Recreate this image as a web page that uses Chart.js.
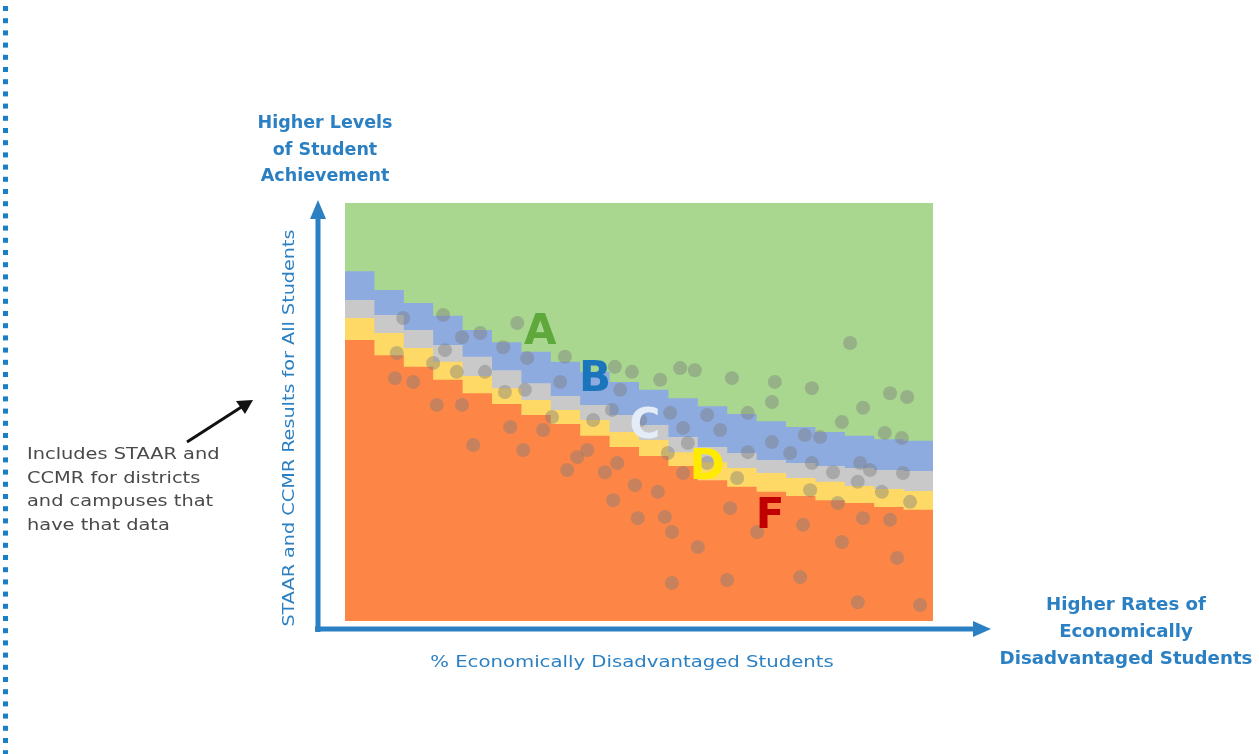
<!DOCTYPE html>
<html lang="en">
<head>
  <meta charset="UTF-8">
  <title>Accountability Grades vs Economically Disadvantaged</title>
  <script src="https://cdn.jsdelivr.net/npm/chart.js"></script>
  <style>
    body { margin: 0; background: #fff; }
    #wrap { width: 1259px; height: 754px; position: relative; }
  </style>
</head>
<body>
  <div id="wrap"><canvas id="gradeChart" width="1259" height="754"></canvas></div>

  <script>
    // step columns along % economically disadvantaged
    const STEP_X = [0, 5, 10, 15, 20, 25, 30, 35, 40, 45, 50, 55, 60, 65, 70, 75, 80, 85, 90, 95, 100];

    // upper edge of each band (score scale 0-100), one value per column
    const TOP_B = [83.7, 79.2, 76.1, 73.0, 69.6, 66.7, 64.4, 62.0, 59.6, 57.2, 55.3, 53.3, 51.4, 49.5, 47.8, 46.4, 45.2, 44.3, 43.5, 43.1];
    const TOP_C = [76.8, 73.2, 69.6, 66.0, 63.2, 60.0, 56.9, 53.8, 51.7, 49.3, 46.9, 44.0, 41.6, 40.2, 38.5, 37.8, 37.1, 36.6, 36.1, 35.9];
    const TOP_D = [72.5, 68.9, 65.3, 62.0, 58.6, 55.7, 52.9, 50.5, 48.1, 45.2, 43.3, 40.4, 38.0, 36.6, 35.4, 34.2, 33.3, 32.3, 31.6, 31.1];
    const TOP_F = [67.2, 63.6, 60.8, 57.7, 54.5, 51.9, 49.3, 47.1, 44.3, 41.6, 39.5, 37.1, 33.7, 32.1, 30.9, 29.9, 28.9, 28.2, 27.3, 26.6];

    // districts / campuses
    const DOT_X = [9.9, 16.7, 29.3, 19.9, 23.0, 26.9, 31.0, 37.4, 45.9, 48.8, 8.8, 15.0, 17.0, 19.0, 23.8, 30.6, 27.2, 36.6, 8.5, 11.6,
                   15.6, 19.9, 28.1, 35.2, 42.2, 45.4, 46.8, 21.8, 30.3, 33.7, 37.8, 39.5, 41.2, 44.2, 46.3, 49.3, 45.6, 49.8, 53.6, 57.0,
                   59.5, 65.8, 73.1, 72.6, 79.4, 85.9, 92.7, 95.6, 88.1, 84.5, 91.8, 94.7, 55.3, 61.6, 68.5, 50.2, 63.8, 57.5, 58.3, 54.9,
                   72.6, 78.2, 80.8, 75.7, 68.5, 79.4, 83.0, 87.6, 89.3, 94.9, 87.2, 91.3, 96.1, 79.1, 83.8, 66.7, 61.6, 57.5, 53.2, 65.5,
                   54.4, 55.6, 60.0, 70.1, 77.9, 88.1, 92.7, 84.5, 93.9, 55.6, 65.0, 77.4, 87.2, 97.8];
    const DOT_Y = [72.5, 73.2, 71.3, 67.9, 68.9, 65.5, 62.9, 63.2, 60.8, 59.6, 64.1, 61.7, 64.8, 59.6, 59.6, 55.3, 54.8, 57.2, 58.1, 57.2,
                   51.7, 51.7, 46.4, 48.8, 48.1, 50.5, 55.3, 42.1, 40.9, 45.7, 36.1, 39.2, 40.9, 35.6, 37.8, 32.5, 28.9, 24.6, 57.7, 60.5,
                   60.0, 58.1, 57.2, 52.4, 55.7, 66.5, 54.5, 53.6, 51.0, 47.6, 45.0, 43.8, 49.8, 49.3, 49.8, 48.1, 45.7, 46.2, 42.6, 40.2,
                   42.8, 44.5, 44.0, 40.2, 40.4, 37.8, 35.6, 37.8, 36.1, 35.4, 33.3, 30.9, 28.5, 31.3, 28.2, 34.2, 37.8, 35.4, 30.9, 27.0,
                   24.9, 21.3, 17.7, 21.3, 23.0, 24.6, 24.2, 18.9, 15.1, 9.1, 9.8, 10.5, 4.5, 3.8];

    const GRADES = ['A', 'B', 'C', 'D', 'F'];
    const GRADE_X = [33.2, 42.5, 51.0, 61.6, 72.3];
    const GRADE_Y = [68.9, 57.7, 46.4, 36.6, 24.9];
    const GRADE_COLORS = ['#5ea83c', '#1b75bc', '#e4edf7', '#ffeb00', '#c00000'];

    const BLUE = '#2b80c3';

    function stepData(tops) {
      return STEP_X.map((x, i) => ({ x, y: tops[Math.min(i, tops.length - 1)] }));
    }

    function band(tops, color, order) {
      return {
        type: 'line',
        data: stepData(tops),
        stepped: 'before',
        borderWidth: 0,
        borderColor: color,
        backgroundColor: color,
        pointRadius: 0,
        fill: 'start',
        order
      };
    }

    const chartBg = {
      id: 'chartBg',
      beforeDatasetsDraw(chart) {
        const { ctx, chartArea: a } = chart;
        ctx.save();
        ctx.fillStyle = '#a9d790';
        ctx.fillRect(a.left, a.top, a.right - a.left, a.bottom - a.top);
        ctx.restore();
      }
    };

    // wide geometric look: stretch text horizontally
    function wideText(ctx, text, x, y, sx) {
      ctx.save();
      ctx.translate(x, y);
      ctx.scale(sx, 1);
      ctx.fillText(text, 0, 0);
      ctx.restore();
    }

    function multiline(ctx, lines, x, y, lh, sx) {
      lines.forEach((t, i) => wideText(ctx, t, x, y + i * lh, sx));
    }

    const decorations = {
      id: 'decorations',
      afterDraw(chart) {
        const { ctx, chartArea: a, scales } = chart;
        ctx.save();

        // grade letters
        ctx.textAlign = 'center';
        ctx.textBaseline = 'middle';
        ctx.font = 'bold 42px "DejaVu Sans"';
        GRADES.forEach((g, i) => {
          ctx.fillStyle = GRADE_COLORS[i];
          ctx.fillText(g, scales.x.getPixelForValue(GRADE_X[i]), scales.y.getPixelForValue(GRADE_Y[i]));
        });

        // axis arrows
        const ax = a.left - 27, ay = a.bottom + 8;
        ctx.strokeStyle = BLUE;
        ctx.fillStyle = BLUE;
        ctx.lineWidth = 5;
        ctx.beginPath();
        ctx.moveTo(ax, ay + 3);
        ctx.lineTo(ax, a.top + 14);
        ctx.moveTo(ax - 3, ay);
        ctx.lineTo(a.right + 42, ay);
        ctx.stroke();
        ctx.beginPath();
        ctx.moveTo(ax, a.top - 3);
        ctx.lineTo(ax - 8, a.top + 16);
        ctx.lineTo(ax + 8, a.top + 16);
        ctx.closePath();
        ctx.fill();
        ctx.beginPath();
        ctx.moveTo(a.right + 58, ay);
        ctx.lineTo(a.right + 40, ay - 8);
        ctx.lineTo(a.right + 40, ay + 8);
        ctx.closePath();
        ctx.fill();

        // headings at arrow ends
        ctx.fillStyle = BLUE;
        ctx.font = 'bold 17px "DejaVu Sans"';
        ctx.textBaseline = 'middle';
        multiline(ctx, ['Higher Levels', 'of Student', 'Achievement'], 325, 124, 26.5, 1.03);
        multiline(ctx, ['Higher Rates of', 'Economically', 'Disadvantaged Students'], 1126, 606, 27, 1.07);

        // axis titles
        ctx.font = '16px "DejaVu Sans"';
        wideText(ctx, '% Economically Disadvantaged Students', (a.left + a.right) / 2 - 7, 663, 1.23);
        ctx.save();
        ctx.translate(290, 428);
        ctx.rotate(-Math.PI / 2);
        wideText(ctx, 'STAAR and CCMR Results for All Students', 0, 0, 1.2);
        ctx.restore();

        // side note
        ctx.fillStyle = '#4a4a4a';
        ctx.textAlign = 'left';
        ctx.font = '15.5px "DejaVu Sans"';
        multiline(ctx, ['Includes STAAR and', 'CCMR for districts', 'and campuses that', 'have that data'], 27, 455, 23.5, 1.25);

        ctx.strokeStyle = '#111';
        ctx.fillStyle = '#111';
        ctx.lineWidth = 3;
        ctx.beginPath();
        ctx.moveTo(187, 442);
        ctx.lineTo(243, 406);
        ctx.stroke();
        ctx.beginPath();
        ctx.moveTo(253, 400);
        ctx.lineTo(236, 401);
        ctx.lineTo(245, 414);
        ctx.closePath();
        ctx.fill();

        // dotted frame edge
        ctx.fillStyle = '#1a7fc8';
        for (let y = 6; y < 754; y += 12.2) ctx.fillRect(3, y, 5, 5);

        ctx.restore();
      }
    };

    new Chart(document.getElementById('gradeChart'), {
      data: {
        datasets: [
          band(TOP_F, '#fd8647', 4),
          band(TOP_D, '#fed966', 5),
          band(TOP_C, '#c9c9c9', 6),
          band(TOP_B, '#8eabe0', 7),
          {
            type: 'scatter',
            data: DOT_X.map((x, i) => ({ x, y: DOT_Y[i] })),
            pointRadius: 7,
            pointBorderWidth: 0,
            backgroundColor: 'rgba(125, 125, 125, 0.42)',
            order: 1
          }
        ]
      },
      options: {
        responsive: false,
        animation: false,
        layout: { padding: { left: 345, right: 326, top: 203, bottom: 133 } },
        scales: {
          x: { type: 'linear', min: 0, max: 100, display: false },
          y: { type: 'linear', min: 0, max: 100, display: false }
        },
        plugins: { legend: { display: false }, tooltip: { enabled: false } }
      },
      plugins: [chartBg, decorations]
    });
  </script>
</body>
</html>
